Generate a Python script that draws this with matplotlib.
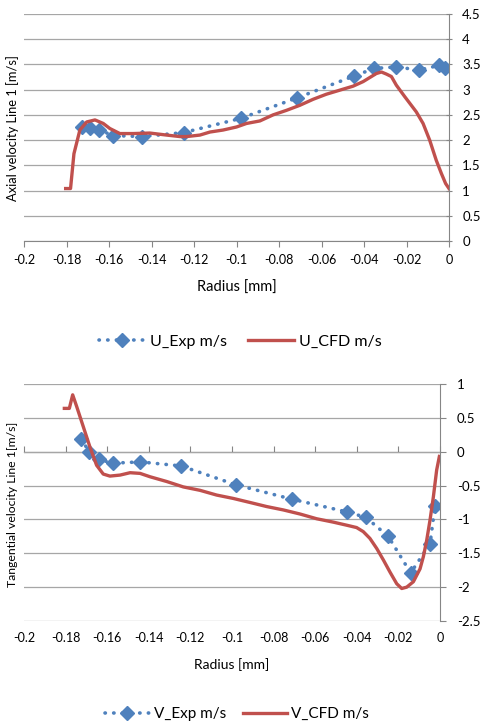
import matplotlib
matplotlib.use('Agg')
import matplotlib.pyplot as plt

plt.rcParams['font.family'] = ['Lato', 'DejaVu Sans']

# axial velocity (top)
u_exp_r = [-0.1729, -0.169, -0.1646, -0.158, -0.1444, -0.1248, -0.0981, -0.0713,
           -0.0447, -0.0353, -0.0248, -0.0141, -0.0047, -0.002]
u_exp = [2.26, 2.24, 2.20, 2.09, 2.07, 2.15, 2.43, 2.84, 3.27, 3.42, 3.45, 3.39, 3.48, 3.42]

u_cfd_r = [-0.1804, -0.1781, -0.1765, -0.1737, -0.1705, -0.1666, -0.1627, -0.1596, -0.1549,
           -0.1486, -0.1408, -0.1329, -0.1266, -0.1235, -0.1172, -0.1125, -0.1063, -0.1000,
           -0.0953, -0.0890, -0.0828, -0.0765, -0.0702, -0.0639, -0.0577, -0.0514, -0.0451,
           -0.0404, -0.0373, -0.0342, -0.0318, -0.0295, -0.0271, -0.0248, -0.0208, -0.0154,
           -0.0122, -0.0091, -0.0060, -0.0036, -0.0016, 0.0]
u_cfd = [1.04, 1.04, 1.73, 2.20, 2.36, 2.40, 2.33, 2.23, 2.13,
         2.13, 2.14, 2.10, 2.07, 2.07, 2.10, 2.16, 2.20, 2.26,
         2.33, 2.38, 2.50, 2.59, 2.69, 2.81, 2.91, 2.99, 3.07,
         3.16, 3.24, 3.32, 3.35, 3.31, 3.26, 3.09, 2.86, 2.56,
         2.33, 2.00, 1.60, 1.34, 1.14, 1.04]

# tangential velocity (bottom)
v_exp_r = [-0.1726, -0.1686, -0.164, -0.1574, -0.1442, -0.1245, -0.098, -0.0713,
           -0.0446, -0.0356, -0.0249, -0.0141, -0.0048, -0.0024]
v_exp = [0.19, 0.0, -0.11, -0.17, -0.15, -0.21, -0.49, -0.70, -0.89, -0.97, -1.25,
         -1.79, -1.36, -0.80]

v_cfd_r = [-0.1806, -0.1782, -0.1766, -0.1747, -0.1715, -0.1683, -0.1651, -0.1619, -0.1587,
           -0.1538, -0.1490, -0.1442, -0.1394, -0.1314, -0.1234, -0.1154, -0.1074, -0.0994,
           -0.0913, -0.0833, -0.0753, -0.0673, -0.0593, -0.0513, -0.0449, -0.0401, -0.0369,
           -0.0337, -0.0304, -0.0272, -0.0240, -0.0208, -0.0184, -0.0160, -0.0128, -0.0096,
           -0.0080, -0.0064, -0.0048, -0.0032, -0.0016, -0.0003]
v_cfd = [0.64, 0.64, 0.84, 0.67, 0.37, 0.07, -0.20, -0.33, -0.36,
         -0.345, -0.31, -0.32, -0.37, -0.44, -0.52, -0.57, -0.64, -0.69,
         -0.75, -0.81, -0.86, -0.92, -0.99, -1.04, -1.085, -1.12, -1.18,
         -1.28, -1.43, -1.60, -1.78, -1.95, -2.02, -2.00, -1.92, -1.73,
         -1.55, -1.31, -1.01, -0.67, -0.27, -0.07]

x_ticks = [-0.2, -0.18, -0.16, -0.14, -0.12, -0.1, -0.08, -0.06, -0.04, -0.02, 0]
x_tick_labels = ['-0.2', '-0.18', '-0.16', '-0.14', '-0.12', '-0.1', '-0.08', '-0.06',
                 '-0.04', '-0.02', '0']
u_ticks = [0, 0.5, 1, 1.5, 2, 2.5, 3, 3.5, 4, 4.5]
u_tick_labels = ['0', '0.5', '1', '1.5', '2', '2.5', '3', '3.5', '4', '4.5']
v_ticks = [-2.5, -2, -1.5, -1, -0.5, 0, 0.5, 1]
v_tick_labels = ['-2.5', '-2', '-1.5', '-1', '-0.5', '0', '0.5', '1']

BLUE = '#4F81BD'
RED = '#C0504D'
GRID = '#A6A6A6'
AXC = '#868686'
DOTS = (0, (0.1, 2.3))

fig = plt.figure(figsize=(4.84, 7.25), dpi=100)
W, H = 484.0, 725.0


def style_axes(ax, ylim, yticks, ylabels):
    ax.set_xlim(-0.2, 0)
    ax.set_ylim(*ylim)
    ax.set_xticks(x_ticks)
    ax.set_xticklabels(x_tick_labels, fontsize=9)
    ax.set_yticks(yticks)
    ax.set_yticklabels(ylabels, fontsize=9.5)
    ax.yaxis.tick_right()
    ax.yaxis.grid(True, color=GRID, linewidth=0.9)
    ax.set_axisbelow(True)
    for s in ['top', 'left']:
        ax.spines[s].set_visible(False)
    ax.spines['right'].set_color(AXC)
    ax.spines['bottom'].set_color(AXC)


# ---- top chart
ax1 = fig.add_axes([24 / W, 1 - 241 / H, 425 / W, 227 / H])
style_axes(ax1, (0, 4.5), u_ticks, u_tick_labels)
ax1.tick_params(axis='x', direction='out', length=4, color=AXC, pad=5)
ax1.tick_params(axis='y', direction='inout', length=5, color=AXC, pad=7)
e1, = ax1.plot(u_exp_r, u_exp, color=BLUE, linestyle=DOTS, linewidth=2.6,
               dash_capstyle='round', marker='D', markersize=7, label='U_Exp m/s')
c1, = ax1.plot(u_cfd_r, u_cfd, color=RED, linewidth=2.4, label='U_CFD m/s')
fig.text(13 / W, 1 - 128 / H, 'Axial velocity Line 1 [m/s]', rotation=90,
         ha='center', va='center', fontsize=9.3)
fig.text(237 / W, 1 - 288 / H, 'Radius [mm]', ha='center', va='center', fontsize=10.5)
fig.legend(handles=[e1, c1], loc='center', bbox_to_anchor=(240 / W, 1 - 342 / H),
           ncol=2, frameon=False, fontsize=11.5, handlelength=2.9, columnspacing=1.3,
           handletextpad=0.3)

# ---- bottom chart
ax2 = fig.add_axes([24 / W, 1 - 621 / H, 416 / W, 237 / H])
style_axes(ax2, (-2.5, 1), v_ticks, v_tick_labels)
ax2.spines['bottom'].set_visible(False)
ax2.tick_params(axis='x', length=0, pad=8)
ax2.tick_params(axis='y', direction='out', length=4, color=AXC, pad=8)
zero_frac = (0 - (-2.5)) / (1 - (-2.5))
sec = ax2.secondary_xaxis(zero_frac)
sec.set_xticks(x_ticks)
sec.set_xticklabels([''] * len(x_ticks))
sec.tick_params(direction='out', length=4, color=AXC)
sec.spines['bottom'].set_color(AXC)
e2, = ax2.plot(v_exp_r, v_exp, color=BLUE, linestyle=DOTS, linewidth=2.6,
               dash_capstyle='round', marker='D', markersize=7, label='V_Exp m/s')
c2, = ax2.plot(v_cfd_r, v_cfd, color=RED, linewidth=2.4, label='V_CFD m/s')
fig.text(13 / W, 1 - 504 / H, 'Tangential velocity Line 1[m/s]', rotation=90,
         ha='center', va='center', fontsize=8.8)
fig.text(232 / W, 1 - 665 / H, 'Radius [mm]', ha='center', va='center', fontsize=10)
fig.legend(handles=[e2, c2], loc='center', bbox_to_anchor=(237 / W, 1 - 714 / H),
           ncol=2, frameon=False, fontsize=11, handlelength=2.9, columnspacing=1.1,
           handletextpad=0.3)

fig.savefig('out.png', dpi=100)
